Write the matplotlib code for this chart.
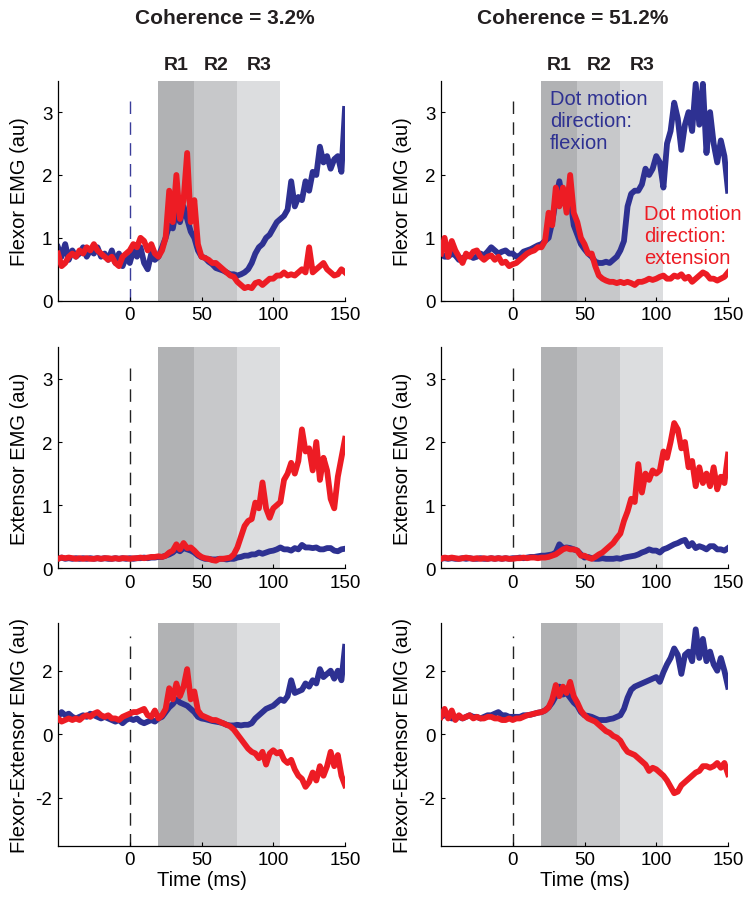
import numpy as np
import matplotlib
matplotlib.use("Agg")
import matplotlib.pyplot as plt

plt.rcParams['font.family'] = ['Liberation Sans', 'DejaVu Sans']
plt.rcParams['axes.unicode_minus'] = False

# time axis (ms)
time_ms = np.arange(-50, 150.01, 2.5)

# ---------------- Flexor EMG ----------------
flex_lo_flexion = [0.85, 0.7, 0.9, 0.65, 0.8, 0.7, 0.75, 0.85, 0.7, 0.8,
                   0.75, 0.85, 0.7, 0.75, 0.65, 0.8, 0.6, 0.75, 0.55, 0.7,
                   0.6, 0.8, 0.7, 0.85, 0.6, 0.5, 0.75, 0.65, 0.7, 0.85,
                   1.0, 1.2, 1.15, 1.45, 1.25, 1.5, 1.3, 1.1, 1.0, 0.8,
                   0.7, 0.68, 0.62, 0.58, 0.52, 0.5, 0.48, 0.45, 0.42, 0.42,
                   0.4, 0.42, 0.45, 0.5, 0.6, 0.75, 0.85, 0.9, 1.0, 1.05,
                   1.15, 1.25, 1.3, 1.35, 1.45, 1.9, 1.5, 1.65, 1.6, 1.9,
                   1.75, 2.05, 2.0, 2.45, 2.2, 2.3, 2.1, 2.25, 2.3, 2.05,
                   3.05]
flex_lo_extension = [0.75, 0.55, 0.6, 0.7, 0.75, 0.7, 0.8, 0.75, 0.85, 0.8,
                     0.9, 0.8, 0.75, 0.7, 0.65, 0.7, 0.6, 0.55, 0.7, 0.75,
                     0.8, 0.9, 0.85, 1.0, 0.95, 0.8, 0.9, 0.75, 0.7, 0.8,
                     1.0, 1.75, 1.25, 2.0, 1.3, 1.6, 2.35, 1.25, 1.6, 0.9,
                     0.7, 0.68, 0.65, 0.6, 0.6, 0.55, 0.5, 0.45, 0.4, 0.38,
                     0.3, 0.25, 0.2, 0.22, 0.2, 0.28, 0.3, 0.25, 0.3, 0.35,
                     0.35, 0.4, 0.4, 0.45, 0.4, 0.42, 0.4, 0.45, 0.5, 0.45,
                     0.85, 0.45, 0.5, 0.55, 0.6, 0.5, 0.45, 0.4, 0.42, 0.5,
                     0.45]
flex_hi_flexion = [0.75, 0.7, 0.7, 0.75, 0.72, 0.65, 0.68, 0.7, 0.72, 0.68,
                   0.7, 0.75, 0.72, 0.78, 0.85, 0.8, 0.75, 0.78, 0.8, 0.75,
                   0.75, 0.7, 0.72, 0.78, 0.8, 0.82, 0.85, 0.88, 0.9, 0.95,
                   1.0, 1.25, 1.6, 1.9, 1.55, 1.75, 1.65, 1.2, 1.05, 0.9,
                   0.82, 0.75, 0.7, 0.62, 0.6, 0.6, 0.62, 0.6, 0.65, 0.7,
                   0.8, 0.95, 1.5, 1.7, 1.75, 1.75, 1.85, 2.1, 2.0, 2.1,
                   2.3, 2.2, 1.8, 2.5, 2.7, 3.15, 2.9, 2.4, 2.8, 3.0,
                   2.7, 3.45, 2.8, 3.45, 2.35, 3.0, 2.5, 2.2, 2.55, 2.3,
                   1.75]
flex_hi_extension = [0.75, 1.0, 0.7, 0.95, 0.8, 0.7, 0.6, 0.75, 0.7, 0.78,
                     0.8, 0.7, 0.65, 0.7, 0.72, 0.65, 0.7, 0.6, 0.62, 0.55,
                     0.58, 0.6, 0.65, 0.7, 0.75, 0.78, 0.8, 0.85, 0.85, 0.95,
                     1.4, 1.2, 1.8, 1.5, 1.8, 1.4, 2.0, 1.4, 1.25, 1.0,
                     0.9, 0.75, 0.75, 0.55, 0.4, 0.35, 0.32, 0.3, 0.3, 0.28,
                     0.3, 0.28, 0.3, 0.28, 0.25, 0.3, 0.3, 0.32, 0.35, 0.33,
                     0.35, 0.38, 0.4, 0.35, 0.35, 0.4, 0.38, 0.42, 0.35, 0.38,
                     0.3, 0.35, 0.4, 0.45, 0.42, 0.35, 0.35, 0.32, 0.35, 0.38,
                     0.45]

# ---------------- Extensor EMG ----------------
ext_lo_flexion = [0.15, 0.17, 0.15, 0.16, 0.15, 0.16, 0.15, 0.16, 0.15, 0.16,
                  0.15, 0.16, 0.15, 0.16, 0.15, 0.15, 0.16, 0.15, 0.16, 0.15,
                  0.16, 0.15, 0.16, 0.16, 0.17, 0.16, 0.17, 0.17, 0.18, 0.18,
                  0.2, 0.22, 0.25, 0.3, 0.27, 0.32, 0.3, 0.28, 0.25, 0.2,
                  0.17, 0.15, 0.15, 0.14, 0.14, 0.15, 0.15, 0.14, 0.15, 0.15,
                  0.17, 0.18, 0.2, 0.2, 0.22, 0.22, 0.25, 0.23, 0.25, 0.27,
                  0.28, 0.3, 0.33, 0.3, 0.3, 0.28, 0.32, 0.3, 0.37, 0.33,
                  0.33, 0.32, 0.33, 0.3, 0.3, 0.32, 0.32, 0.28, 0.27, 0.3,
                  0.31]
ext_lo_extension = [0.15, 0.17, 0.16, 0.17, 0.16, 0.15, 0.16, 0.15, 0.16, 0.15,
                    0.15, 0.16, 0.15, 0.16, 0.16, 0.15, 0.16, 0.15, 0.16, 0.16,
                    0.15, 0.16, 0.16, 0.17, 0.16, 0.17, 0.18, 0.18, 0.19, 0.18,
                    0.2, 0.25, 0.28, 0.38, 0.3, 0.4, 0.32, 0.33, 0.28, 0.22,
                    0.18, 0.16, 0.15, 0.13, 0.12, 0.15, 0.15, 0.16, 0.17, 0.22,
                    0.33, 0.5, 0.67, 0.75, 0.78, 1.04, 0.95, 1.36, 0.95, 0.8,
                    0.95, 1.0, 1.05, 1.4, 1.5, 1.67, 1.5, 1.7, 2.2, 1.85,
                    1.9, 1.55, 2.0, 1.4, 1.75, 1.55, 1.1, 0.95, 1.45, 1.75,
                    2.05]
ext_hi_flexion = [0.15, 0.16, 0.15, 0.16, 0.15, 0.15, 0.16, 0.15, 0.16, 0.15,
                  0.15, 0.16, 0.15, 0.15, 0.16, 0.15, 0.16, 0.15, 0.16, 0.15,
                  0.16, 0.16, 0.17, 0.16, 0.17, 0.18, 0.18, 0.19, 0.2, 0.2,
                  0.21, 0.22, 0.25, 0.38, 0.32, 0.33, 0.32, 0.3, 0.28, 0.22,
                  0.17, 0.18, 0.16, 0.15, 0.15, 0.16, 0.15, 0.15, 0.15, 0.16,
                  0.15, 0.17, 0.18, 0.19, 0.2, 0.22, 0.25, 0.27, 0.3, 0.28,
                  0.28, 0.25, 0.3, 0.32, 0.35, 0.38, 0.4, 0.43, 0.45, 0.35,
                  0.4, 0.32, 0.35, 0.33, 0.3, 0.35, 0.35, 0.3, 0.3, 0.28,
                  0.32]
ext_hi_extension = [0.15, 0.17, 0.16, 0.17, 0.16, 0.15, 0.16, 0.17, 0.16, 0.15,
                    0.16, 0.15, 0.16, 0.15, 0.16, 0.15, 0.16, 0.15, 0.16, 0.15,
                    0.15, 0.16, 0.16, 0.17, 0.16, 0.17, 0.17, 0.16, 0.17, 0.17,
                    0.18, 0.2, 0.22, 0.26, 0.3, 0.32, 0.3, 0.3, 0.28, 0.2,
                    0.2, 0.17, 0.15, 0.18, 0.22, 0.25, 0.3, 0.35, 0.4, 0.48,
                    0.55, 0.75, 0.9, 1.1, 1.05, 1.65, 1.2, 1.5, 1.4, 1.55,
                    1.5, 1.55, 1.85, 1.75, 2.0, 2.3, 2.2, 1.9, 2.0, 1.6,
                    1.7, 1.3, 1.6, 1.35, 1.5, 1.3, 1.6, 1.25, 1.45, 1.35,
                    1.8]

# ---------------- Flexor - Extensor EMG ----------------
diff_lo_flexion = [0.55, 0.7, 0.6, 0.65, 0.55, 0.5, 0.55, 0.6, 0.55, 0.65,
                   0.6, 0.55, 0.5, 0.55, 0.5, 0.45, 0.4, 0.45, 0.35, 0.45,
                   0.5, 0.45, 0.5, 0.4, 0.35, 0.4, 0.45, 0.4, 0.5, 0.55,
                   0.7, 0.85, 0.95, 1.1, 1.0, 0.95, 0.9, 0.8, 0.7, 0.55,
                   0.5, 0.48, 0.45, 0.42, 0.4, 0.38, 0.35, 0.3, 0.28, 0.28,
                   0.3, 0.28, 0.3, 0.3, 0.35, 0.5, 0.6, 0.7, 0.8, 0.85,
                   0.9, 1.0, 1.1, 1.05, 1.2, 1.7, 1.3, 1.35, 1.4, 1.6,
                   1.5, 1.7, 1.6, 2.05, 1.8, 1.9, 2.0, 1.75, 2.0, 1.7,
                   2.75]
diff_lo_extension = [0.5, 0.4, 0.45, 0.5, 0.45, 0.5, 0.45, 0.55, 0.6, 0.55,
                     0.65, 0.7, 0.6, 0.55, 0.6, 0.5, 0.5, 0.45, 0.55, 0.6,
                     0.65, 0.7, 0.7, 0.75, 0.8, 0.6, 0.55, 0.75, 0.5, 0.6,
                     0.8, 1.45, 1.1, 1.6, 1.2, 1.5, 2.05, 1.1, 1.35, 0.75,
                     0.6, 0.55, 0.5, 0.45, 0.45, 0.4, 0.35, 0.3, 0.25, 0.15,
                     0.0, -0.15, -0.3, -0.45, -0.55, -0.6, -0.75, -0.55, -0.95, -0.6,
                     -0.5, -0.6, -0.55, -0.8, -0.9, -0.8, -1.1, -1.3, -1.4, -1.65,
                     -1.5, -1.2, -1.45, -1.0, -1.3, -1.0, -0.55, -1.0, -0.65, -1.3,
                     -1.6]
diff_hi_flexion = [0.55, 0.6, 0.6, 0.5, 0.5, 0.55, 0.5, 0.55, 0.6, 0.55,
                   0.55, 0.5, 0.55, 0.6, 0.6, 0.65, 0.7, 0.6, 0.6, 0.55,
                   0.55, 0.55, 0.55, 0.6, 0.6, 0.62, 0.65, 0.68, 0.7, 0.75,
                   0.85, 1.0, 1.2, 1.5, 1.25, 1.3, 1.15, 1.0, 0.9, 0.7,
                   0.6, 0.58, 0.55, 0.5, 0.45, 0.45, 0.45, 0.48, 0.5, 0.55,
                   0.6, 0.8, 1.15, 1.4, 1.5, 1.55, 1.6, 1.65, 1.7, 1.75,
                   1.8, 1.65, 1.95, 2.2, 2.4, 2.7, 2.5, 1.9, 2.5, 2.6,
                   2.3, 3.3, 2.4, 3.0, 2.3, 2.6, 2.2, 2.0, 2.4, 2.0,
                   1.5]
diff_hi_extension = [0.55, 0.8, 0.5, 0.75, 0.45, 0.6, 0.5, 0.55, 0.6, 0.5,
                     0.55, 0.5, 0.5, 0.55, 0.55, 0.5, 0.5, 0.45, 0.45, 0.5,
                     0.45, 0.5, 0.5, 0.55, 0.6, 0.62, 0.65, 0.68, 0.7, 0.75,
                     0.85, 1.1, 1.55, 1.2, 1.5, 1.3, 1.65, 1.2, 1.0, 0.75,
                     0.6, 0.5, 0.45, 0.4, 0.3, 0.2, 0.1, 0.05, -0.05, -0.1,
                     -0.2, -0.4, -0.55, -0.6, -0.65, -0.75, -0.85, -0.95, -1.15, -1.05,
                     -1.1, -1.2, -1.3, -1.45, -1.65, -1.85, -1.8, -1.6, -1.5, -1.4,
                     -1.3, -1.2, -1.15, -1.0, -1.0, -1.05, -1.0, -0.9, -1.05, -0.9,
                     -1.25]

titles = ["Coherence = 3.2%", "Coherence = 51.2%"]
ylabels = ["Flexor EMG (au)", "Extensor EMG (au)", "Flexor-Extensor EMG (au)"]
region_names = ["R1", "R2", "R3"]
region_edges = [20, 45, 75, 105]
region_colors = ["#b1b2b4", "#c7c8ca", "#dcdddf"]
xticks = [0, 50, 100, 150]
yticks_rows = [[0, 1, 2, 3], [0, 1, 2, 3], [-2, 0, 2]]
ylims = [(0, 3.5), (0, 3.5), (-3.5, 3.5)]

BLUE = "#2e3192"
RED = "#ed1c24"

data = [
    [(flex_lo_flexion, flex_lo_extension), (flex_hi_flexion, flex_hi_extension)],
    [(ext_lo_flexion, ext_lo_extension), (ext_hi_flexion, ext_hi_extension)],
    [(diff_lo_flexion, diff_lo_extension), (diff_hi_flexion, diff_hi_extension)],
]

W, H = 743, 903
fig = plt.figure(figsize=(W / 100, H / 100), dpi=100)

col_left = [58 / W, 441 / W]
col_width = 287 / W
row_px = [(81.7, 301.7), (348.3, 569.3), (624.0, 846.7)]

for r in range(3):
    top, bot = row_px[r]
    for c in range(2):
        ax = fig.add_axes([col_left[c], 1 - bot / H, col_width, (bot - top) / H])
        for i in range(3):
            ax.axvspan(region_edges[i], region_edges[i + 1], color=region_colors[i],
                       lw=0, zorder=0)
        dcol = "#3a3d9a" if (r == 0 and c == 0) else "#222222"
        ax.axvline(0, ymin=0, ymax=0.94, color=dcol, lw=1.0, dashes=(9, 6), zorder=1)
        yb, yr = data[r][c]
        ax.plot(time_ms, yb, color=BLUE, lw=4.2, solid_joinstyle='round', zorder=2)
        ax.plot(time_ms, yr, color=RED, lw=4.2, solid_joinstyle='round', zorder=3)
        ax.set_xlim(-50, 150)
        ax.set_ylim(*ylims[r])
        ax.set_xticks(xticks)
        ax.set_yticks(yticks_rows[r])
        ax.spines['top'].set_visible(False)
        ax.spines['right'].set_visible(False)
        for s in ('left', 'bottom'):
            ax.spines[s].set_linewidth(0.9)
        ax.tick_params(direction='in', length=3, width=0.8, labelsize=13.5, pad=4)
        ax.set_ylabel(ylabels[r], fontsize=14.5)
        ax.yaxis.set_label_coords(-0.1, 0.5)
        if r == 2:
            ax.set_xlabel("Time (ms)", fontsize=14.5, labelpad=1)
        if r == 0:
            trans = ax.get_xaxis_transform()
            for i in range(3):
                ax.text((region_edges[i] + region_edges[i + 1]) / 2, 1.073,
                        region_names[i], transform=trans, ha='center', va='center',
                        fontsize=14, fontweight='bold', color='#231f20')
        if r == 0 and c == 1:
            ax.text(26, 2.87, "Dot motion\ndirection:\nflexion", color=BLUE,
                    fontsize=14.5, ha='left', va='center', zorder=5)
            ax.text(91.6, 1.03, "Dot motion\ndirection:\nextension", color=RED,
                    fontsize=14.5, ha='left', va='center', zorder=5, clip_on=False)

fig.text(224.7 / W, 1 - 18 / H, titles[0], ha='center', va='center',
         fontsize=15, fontweight='bold', color='#231f20')
fig.text(573 / W, 1 - 18 / H, titles[1], ha='center', va='center',
         fontsize=15, fontweight='bold', color='#231f20')

fig.savefig("out.png", dpi=100)
